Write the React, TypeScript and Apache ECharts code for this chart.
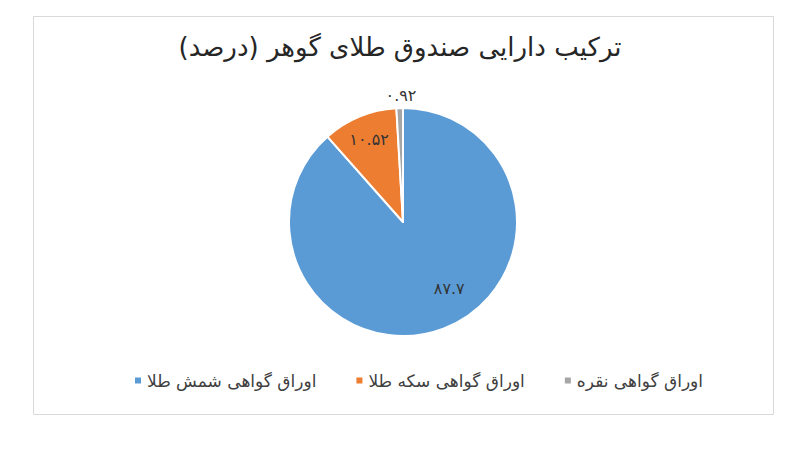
import { useEffect, useRef } from "react";
import * as echarts from "echarts";

const titleText = "ترکیب دارایی صندوق طلای گوهر (درصد)";
const categories = ["اوراق گواهی شمش طلا", "اوراق گواهی سکه طلا", "اوراق گواهی نقره"];
const values = [87.7, 10.52, 0.92];
const colors = ["#5B9BD5", "#ED7D31", "#A5A5A5"];
// label nudges to mimic Excel's best-fit placement
const labelShift = [
  { dx: 25, dy: 10 },
  { dx: -11, dy: -27 },
  { dx: 22, dy: -5 },
];

const FONT = "DejaVu Sans";
const faDigits = (v: number) => String(v).replace(/[0-9]/g, d => "۰۱۲۳۴۵۶۷۸۹"[+d]);

export default function App() {
  const ref = useRef<HTMLDivElement>(null);

  useEffect(() => {
    if (!ref.current) return;
    const chart = echarts.init(ref.current, null, { renderer: "svg" });
    chart.setOption({
      animation: false,
      backgroundColor: "#ffffff",
      title: {
        text: titleText,
        left: "center",
        top: 29,
        textStyle: { fontFamily: FONT, fontSize: 26, fontWeight: "normal", color: "#262626" },
      },
      graphic: [
        {
          type: "rect",
          shape: { x: 33.5, y: 16.5, width: 740, height: 398 },
          style: { fill: "none", stroke: "#d9d9d9", lineWidth: 1 },
          silent: true,
        },
      ],
      legend: {
        data: categories,
        bottom: 56,
        left: 128,
        icon: "rect",
        itemWidth: 8,
        itemHeight: 8,
        itemGap: 38,
        textStyle: { fontFamily: FONT, fontSize: 17, color: "#404040" },
      },
      series: [
        {
          type: "pie",
          center: [403, 222],
          radius: 114,
          startAngle: 90,
          clockwise: true,
          itemStyle: { borderColor: "#ffffff", borderWidth: 2 },
          label: {
            position: "inside",
            fontFamily: FONT,
            fontSize: 16,
            color: "#333333",
            formatter: (p: any) => faDigits(p.value),
          },
          labelLayout: (p: any) => ({ ...labelShift[p.dataIndex] }),
          data: categories.map((name, i) => ({
            name,
            value: values[i],
            itemStyle: { color: colors[i] },
            label: i === 2 ? { position: "outside" } : undefined,
            labelLine: { show: false, length: 8, length2: 0 },
          })),
        },
      ],
    });
    return () => chart.dispose();
  }, []);

  return <div ref={ref} style={{ position: "fixed", left: 0, top: 0, width: 800, height: 450 }} />;
}
